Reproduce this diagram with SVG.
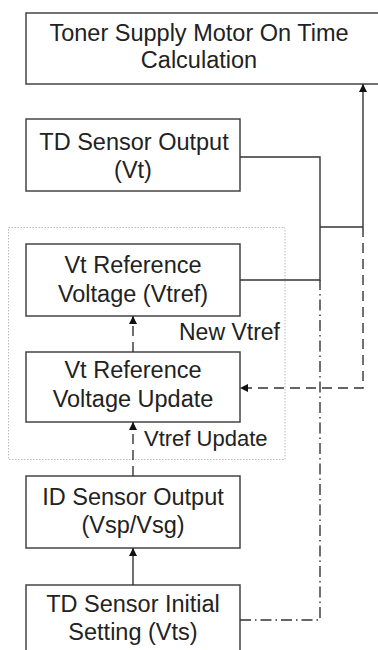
<svg xmlns="http://www.w3.org/2000/svg" width="378" height="650" viewBox="0 0 378 650">
<defs>
<marker id="ah" markerWidth="8" markerHeight="8" refX="8" refY="4" orient="auto" markerUnits="userSpaceOnUse">
<path d="M0,0 L8,4 L0,8 Z" fill="#111"/>
</marker>
<style>
.box{fill:#fff;stroke:#444;stroke-width:1.5}
.t{font-family:"Liberation Sans",Arial,sans-serif;font-size:23.5px;fill:#222;text-anchor:middle}
.lb{font-family:"Liberation Sans",Arial,sans-serif;font-size:22px;fill:#222}
.ln{fill:none;stroke:#333;stroke-width:1.4}
.dash{stroke-dasharray:10,6}
.dd{stroke-dasharray:11,4,1.5,4}
.grp{fill:none;stroke:#bbb;stroke-width:1;stroke-dasharray:1.5,1.5}
</style>
</defs>
<rect class="grp" x="8.5" y="227.5" width="276.5" height="232"/>
<g id="n_toner">
<rect class="box" x="26" y="13" width="370" height="71"/>
<text class="t" x="199" y="41">Toner Supply Motor On Time</text>
<text class="t" x="199" y="68">Calculation</text>
</g>
<g id="n_tdout">
<rect class="box" x="26" y="119" width="214" height="72"/>
<text class="t" x="134" y="150">TD Sensor Output</text>
<text class="t" x="133" y="178">(Vt)</text>
</g>
<g id="n_vtref">
<rect class="box" x="26" y="244" width="214" height="72"/>
<text class="t" x="133" y="273">Vt Reference</text>
<text class="t" x="133" y="302">Voltage (Vtref)</text>
</g>
<g id="n_update">
<rect class="box" x="26" y="352" width="214" height="70"/>
<text class="t" x="133" y="378">Vt Reference</text>
<text class="t" x="133" y="407">Voltage Update</text>
</g>
<g id="n_id">
<rect class="box" x="26" y="476" width="214" height="72"/>
<text class="t" x="133" y="505">ID Sensor Output</text>
<text class="t" x="133" y="533">(Vsp/Vsg)</text>
</g>
<g id="n_init">
<rect class="box" x="26" y="585" width="214" height="80"/>
<text class="t" x="133" y="612">TD Sensor Initial</text>
<text class="t" x="133" y="640">Setting (Vts)</text>
</g>
<g id="connectors">
<polyline class="ln" points="240,157 320,157 320,280 240,280"/>
<line class="ln" x1="320" y1="227" x2="363" y2="227"/>
<line class="ln" x1="363" y1="227" x2="363" y2="84" marker-end="url(#ah)"/>
<polyline class="ln dash" points="363,227 363,388 240,388" marker-end="url(#ah)"/>
<polyline class="ln dd" points="240,620 320,620 320,280"/>
<line class="ln dash" x1="133" y1="352" x2="133" y2="316" marker-end="url(#ah)"/>
<line class="ln dash" x1="133" y1="476" x2="133" y2="422" marker-end="url(#ah)"/>
<line class="ln" x1="133" y1="585" x2="133" y2="548" marker-end="url(#ah)"/>
<text class="lb" x="179" y="340" style="font-size:23px">New Vtref</text>
<text class="lb" x="144" y="446">Vtref Update</text>
</g>
</svg>
